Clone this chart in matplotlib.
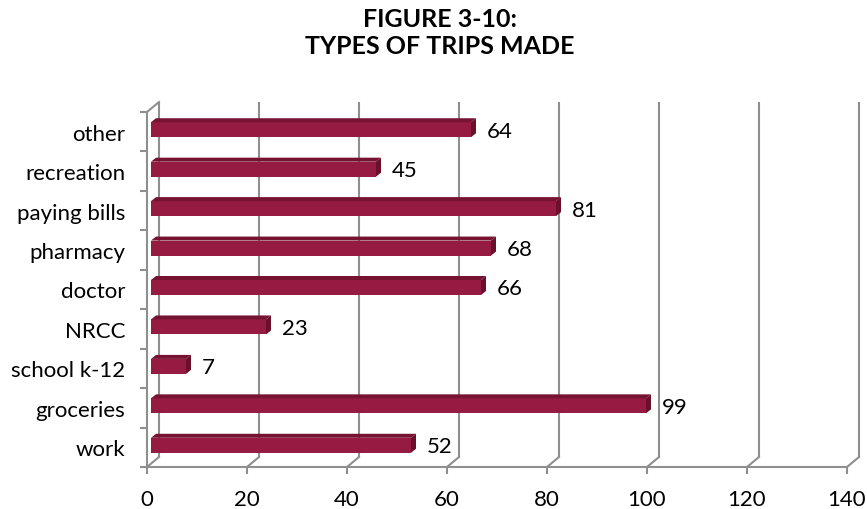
import matplotlib
matplotlib.use("Agg")
import matplotlib.pyplot as plt
from matplotlib.patches import Polygon

categories = ["work", "groceries", "school k-12", "NRCC", "doctor",
              "pharmacy", "paying bills", "recreation", "other"]
values = [52, 99, 7, 23, 66, 68, 81, 45, 64]
x_ticks = [0, 20, 40, 60, 80, 100, 120, 140]
title = "FIGURE 3-10:\nTYPES OF TRIPS MADE"

plt.rcParams['font.family'] = ['Lato', 'DejaVu Sans']

W, H = 867, 510
fig = plt.figure(figsize=(W / 100, H / 100), dpi=100)
left_px, right_px, bot_px, top_px = 147, 847, 468, 113
ax = fig.add_axes([left_px / W, (H - bot_px) / H,
                   (right_px - left_px) / W, (bot_px - top_px) / H])
ax.set_xlim(0, 140)
ax.set_ylim(-0.5, len(categories) - 0.5)

px_x = 140 / (right_px - left_px)
px_y = len(categories) / (bot_px - top_px)

grid_col = "#8f8f8f"
lw = 1.5
front_col = "#951b43"
top_col = "#771332"
side_col = "#6a0f2c"
fs = 16

# back-wall offset
wx, wy = 12 * px_x, 10 * px_y
ymin, ymax = -0.5, len(categories) - 0.5
for v in x_ticks:
    ax.plot([v + wx, v + wx], [ymin + wy, ymax + wy], color=grid_col, lw=lw,
            clip_on=False, zorder=1, solid_capstyle='butt')
    ax.plot([v, v + wx], [ymin, ymin + wy], color=grid_col, lw=lw,
            clip_on=False, zorder=1)
ax.plot([0, wx], [ymax, ymax + wy], color=grid_col, lw=lw, clip_on=False, zorder=1)

# bars (pseudo 3D)
bx = 4 * px_x
dx, dy = 5 * px_x, 4 * px_y
half = 7.5 * px_y
for i, v in enumerate(values):
    yc = i + 2 * px_y
    yb, yt = yc - half, yc + half
    x0, x1 = bx, v + bx
    ax.add_patch(Polygon([(x0, yb), (x1, yb), (x1, yt), (x0, yt)], closed=True,
                         facecolor=front_col, edgecolor='none', zorder=3, clip_on=False))
    ax.add_patch(Polygon([(x0, yt), (x1, yt), (x1 + dx, yt + dy), (x0 + dx, yt + dy)],
                         closed=True, facecolor=top_col, edgecolor='none', zorder=3, clip_on=False))
    ax.add_patch(Polygon([(x1, yb), (x1 + dx, yb + dy), (x1 + dx, yt + dy), (x1, yt)],
                         closed=True, facecolor=side_col, edgecolor='none', zorder=3, clip_on=False))
    ax.text(x1 + dx + 11 * px_x, i + 1 * px_y, str(v), ha='left', va='center',
            fontsize=fs, color='black', zorder=4)

for s in ['top', 'right']:
    ax.spines[s].set_visible(False)
for s in ['left', 'bottom']:
    ax.spines[s].set_color(grid_col)
    ax.spines[s].set_linewidth(lw)
    ax.spines[s].set_zorder(2)

ax.set_xticks(x_ticks)
ax.set_xticklabels([str(t) for t in x_ticks], fontsize=fs)
ax.set_yticks(range(len(categories)))
ax.set_yticklabels(categories, fontsize=fs)
ax.set_yticks([i - 0.5 for i in range(len(categories) + 1)], minor=True)
ax.tick_params(axis='y', which='major', length=0, pad=15.5)
ax.tick_params(axis='y', which='minor', length=5, width=lw, color=grid_col)
ax.tick_params(axis='x', which='major', length=5, width=lw, color=grid_col, pad=10.5)
ax.patch.set_alpha(0)

fig.text(440 / W, 1 - 33 / H, title, ha='center', va='center', fontsize=18,
         fontweight='bold', linespacing=1.25)

fig.savefig("out.png", dpi=100)
